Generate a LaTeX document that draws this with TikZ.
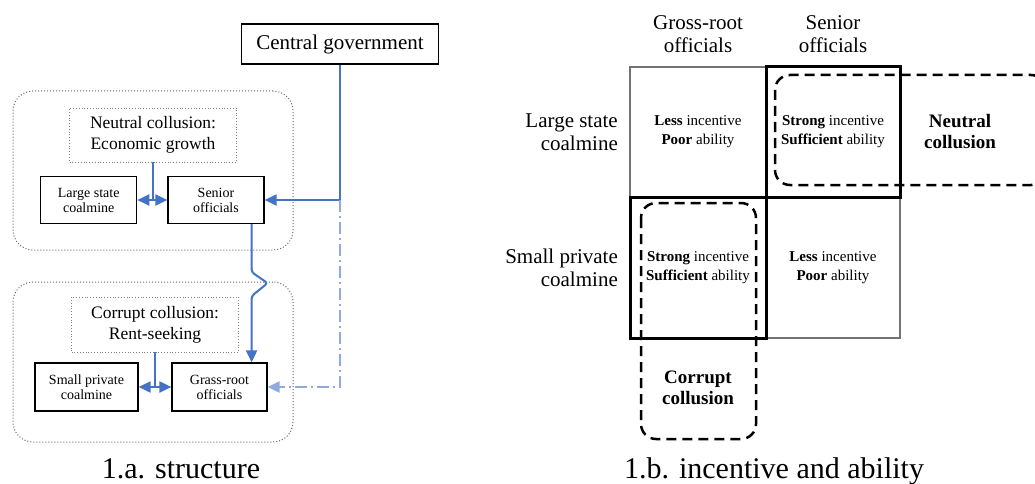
\documentclass[tikz,border=0pt]{standalone}
\usepackage{fontspec}
\setmainfont{Liberation Serif}
\usepackage{tikz}
\usetikzlibrary{positioning,arrows.meta,calc}
\definecolor{lineblue}{RGB}{68,114,196}
\definecolor{paleblue}{RGB}{143,170,220}

\begin{document}
\begin{tikzpicture}[x=1pt,y=-1pt,
    groupbox/.style={draw=black!60, dotted, line width=1pt, rounded corners=20pt, minimum width=280pt, minimum height=159pt, inner sep=0pt},
    topicbox/.style={draw=black!50, dotted, line width=0.8pt, minimum width=167pt, minimum height=54pt, align=center, inner sep=0pt, font=\fontsize{17.5}{21}\selectfont},
    smallbox/.style={draw, line width=1.2pt, minimum width=96pt, minimum height=47pt, align=center, inner sep=0pt, font=\fontsize{14}{15}\selectfont},
    blue line/.style={draw=lineblue, line width=2pt},
    blue arr/.style={blue line, -{Triangle[length=12pt,width=11pt]}},
    cell/.style={draw=black!55, line width=1.2pt, minimum width=136pt, minimum height=130pt, inner sep=0pt, outer sep=0pt, align=center, font=\fontsize{15}{19}\selectfont},
    frame/.style={line width=3pt},
    biglab/.style={inner sep=0pt, font=\fontsize{21}{23}\selectfont},
    colllab/.style={align=center, inner sep=0pt, font=\fontsize{19}{21}\selectfont\bfseries},
    collbox/.style={line width=2.5pt, dash pattern=on 10pt off 6pt, rounded corners=15pt},
    caption/.style={anchor=base, inner sep=0pt, font=\fontsize{30}{32}\selectfont}]
\useasboundingbox (0,0) rectangle (1035,484);

\node[draw, line width=1.2pt, minimum width=197pt, minimum height=40pt, font=\fontsize{21}{23}\selectfont] (cg) at (340,44) {Central government};

\node[groupbox] (grp1) at (153,170.5) {};
\node[topicbox] (neu) at (153,135) {Neutral collusion:\\Economic growth};
\node[smallbox] (lsc) at (88.7,200) {Large state\\coalmine};
\node[smallbox] (so) at (216,200) {Senior\\officials};

\node[groupbox, minimum height=160pt] (grp2) at (153,362) {};
\node[topicbox, minimum height=55pt] (cor) at (155,324.5) {Corrupt collusion:\\Rent-seeking};
\node[smallbox, minimum width=103pt, minimum height=48pt] (spc) at (86.5,387) {Small private\\coalmine};
\node[smallbox, minimum width=95pt, minimum height=48pt] (gro) at (219.5,387) {Grass-root\\officials};

\coordinate (jn) at (neu.south |- lsc.east);
\coordinate (jc) at (cor.south |- spc.east);
\coordinate (jg) at (cg.south |- so.east);
\coordinate (jd) at (cg.south |- gro.east);

\draw[blue line] (neu.south) -- (jn);
\draw[blue arr] (jn) -- (lsc.east);
\draw[blue arr] (jn) -- (so.west);
\draw[blue line] (cor.south) -- (jc);
\draw[blue arr] (jc) -- (spc.east);
\draw[blue arr] (jc) -- (gro.west);
\draw[blue line] (cg.south) -- (jg);
\draw[blue arr] (jg) -- (so.east);
\draw[blue arr, draw=paleblue, dash pattern=on 12pt off 4pt on 2pt off 4pt] (jg) -- (jd) -- (gro.east);
\draw[blue arr, rounded corners=3pt] ($(so.south east)+(-13,0)$) -- ++(0,48) -- ++(16,11) -- ++(-16,13) -- ($(gro.north east)+(-16,0)$);

\node[caption] (capa) at (181,478) {1.a. structure};

\node[cell] (c11) at (698,132) {\textbf{Less} incentive\\\textbf{Poor} ability};
\node[cell, minimum width=134pt, right=0pt of c11] (c12) {\textbf{Strong} incentive\\\textbf{Sufficient} ability};
\node[cell, minimum height=141pt, below=0pt of c11] (c21) {\textbf{Strong} incentive\\\textbf{Sufficient} ability};
\node[cell, minimum width=134pt, minimum height=141pt, right=0pt of c21] (c22) {\textbf{Less} incentive\\\textbf{Poor} ability};
\draw[frame] (c12.north west) rectangle (c12.south east);
\draw[frame] (c21.north west) rectangle (c21.south east);

\node[biglab, align=right, left=12pt of c11] (rlsc) {Large state\\coalmine};
\node[biglab, align=right, left=12pt of c21] (rspc) {Small private\\coalmine};
\node[biglab, align=center, above=14pt of c11] (hgro) {Gross-root\\officials};
\node[biglab, align=center, above=14pt of c12] (hso) {Senior\\officials};

\node[colllab] (neulab) at (960,132) {Neutral\\collusion};
\node[colllab] (corlab) at (698,387.5) {Corrupt\\collusion};
\draw[collbox] (775,75) rectangle (1046,185);
\draw[collbox] (641,203) rectangle (756,439);

\node[caption] (capb) at (774,478) {1.b. incentive and ability};
\end{tikzpicture}
\end{document}
